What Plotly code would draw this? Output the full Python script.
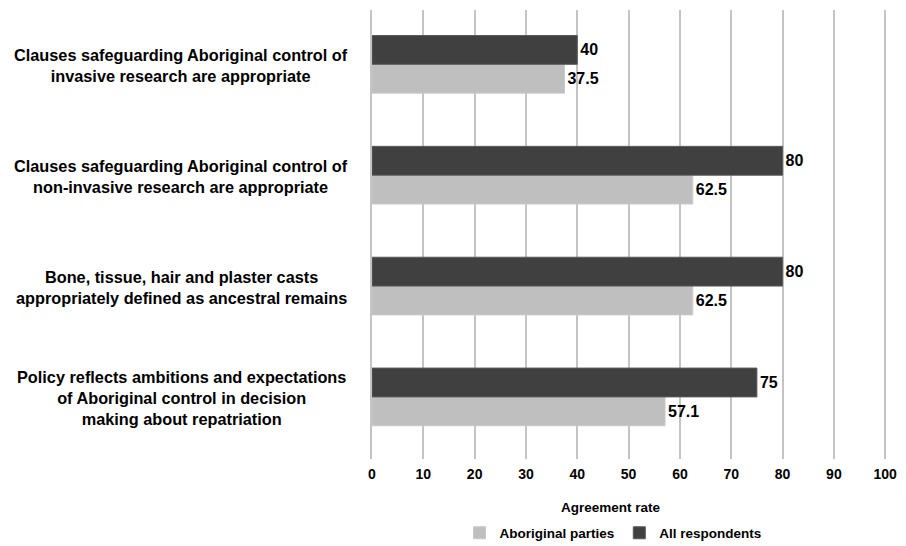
import plotly.graph_objects as go

# Survey statements (top to bottom) and agreement rates (%)
statements = [
    "Clauses safeguarding Aboriginal control of<br>invasive research are appropriate",
    "Clauses safeguarding Aboriginal control of<br>non-invasive research are appropriate",
    "Bone, tissue, hair and plaster casts<br>appropriately defined as ancestral remains",
    "Policy reflects ambitions and expectations<br>of Aboriginal control in decision<br>making about repatriation",
]
aboriginal_parties = [37.5, 62.5, 62.5, 57.1]
all_respondents = [40, 80, 80, 75]
x_ticks = [0, 10, 20, 30, 40, 50, 60, 70, 80, 90, 100]

FONT = "Liberation Sans"
LIGHT = "#bfbfbf"
DARK = "#404040"
GRID = "#c4c4c4"

def fmt(v):
    return f"{v:g}"

fig = go.Figure()
fig.add_trace(go.Bar(
    name="Aboriginal parties",
    y=statements, x=aboriginal_parties, orientation="h",
    marker=dict(color=LIGHT, line=dict(color="#c9c9c9", width=1)),
    text=[fmt(v) for v in aboriginal_parties], textposition="outside",
    textfont=dict(family=FONT, size=16, color="black", weight="bold"),
    cliponaxis=False,
))
fig.add_trace(go.Bar(
    name="All respondents",
    y=statements, x=all_respondents, orientation="h",
    marker=dict(color=DARK, line=dict(color="#5a5a5a", width=1)),
    text=[fmt(v) for v in all_respondents], textposition="outside",
    textfont=dict(family=FONT, size=16, color="black", weight="bold"),
    cliponaxis=False,
))

# Category labels drawn as centred, multi-line text to the left of the bars
for s in statements:
    fig.add_annotation(
        x=-0.370, xref="paper", y=s, yref="y", yshift=-1,
        text=s, showarrow=False, xanchor="center", yanchor="middle",
        align="center",
        font=dict(family=FONT, size=16.3, color="black", weight="bold"),
    )

# Axis title below the tick labels
fig.add_annotation(
    x=0.464, xref="paper", y=-0.107, yref="paper",
    text="Agreement rate", showarrow=False, xanchor="center", yanchor="middle",
    font=dict(family=FONT, size=13.5, color="black", weight="bold"),
)

fig.update_layout(
    width=906, height=546,
    margin=dict(l=372, r=19, t=10, b=87, autoexpand=False),
    paper_bgcolor="white", plot_bgcolor="white",
    barmode="group", bargap=0.48, bargroupgap=0,
    showlegend=True,
    legend=dict(
        orientation="h",
        xref="container", x=613 / 906, xanchor="center",
        yref="container", y=(546 - 533) / 546, yanchor="middle",
        font=dict(family=FONT, size=13.5, color="black", weight="bold"),
        itemwidth=30,
    ),
    xaxis=dict(
        range=[0, 100.35], tickvals=x_ticks, ticktext=[str(t) for t in x_ticks],
        showgrid=True, gridcolor=GRID, gridwidth=2,
        zeroline=False, showline=False, ticks="",
        ticklabelstandoff=5,
        tickfont=dict(family=FONT, size=14, color="black", weight="bold"),
    ),
    yaxis=dict(
        categoryorder="array", categoryarray=list(reversed(statements)),
        range=[-0.56, 3.49], showticklabels=False, ticks="",
        showgrid=False, zeroline=False,
        showline=True, linecolor=GRID, linewidth=2,
    ),
)

fig.write_html("out.html")
